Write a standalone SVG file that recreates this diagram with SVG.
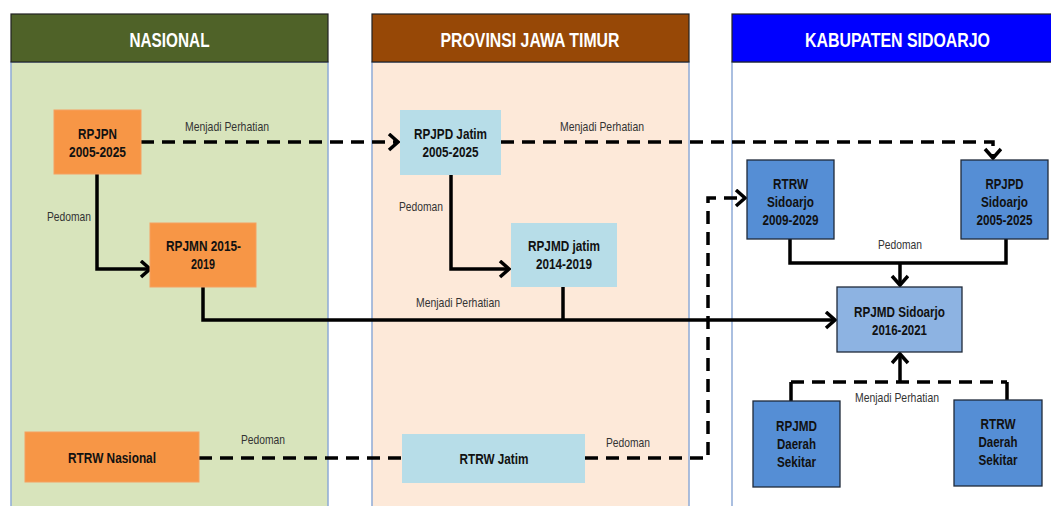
<svg xmlns="http://www.w3.org/2000/svg" width="1051" height="506" viewBox="0 0 1051 506">
<style>
.hdr{stroke:#222;stroke-width:1.2}
.col{stroke:#8eaad6;stroke-width:1.5}
.ht{font-family:"Liberation Sans",Arial,sans-serif;font-weight:bold;font-size:20.5px;fill:#fff;text-anchor:middle}
.nt{font-family:"Liberation Sans",Arial,sans-serif;font-weight:bold;font-size:15.2px;fill:#111;text-anchor:middle}
.lb{font-family:"Liberation Sans",Arial,sans-serif;font-size:13px;fill:#333}
.or{fill:#f79646;stroke:#f5a060;stroke-width:1}
.lb1{fill:#b7dde8}
.db{fill:#558ed5;stroke:#1f2a3a;stroke-width:1.3}
.mb{fill:#8db3e2;stroke:#1f2a3a;stroke-width:1.3}
.c{fill:none;stroke:#000;stroke-width:3.5}
.d{stroke-dasharray:13 8}
</style>
<defs>
<marker id="ar" markerUnits="userSpaceOnUse" markerWidth="16" markerHeight="20" refX="11" refY="9" orient="auto">
<path d="M2,1 L11,9 L2,17" fill="none" stroke="#000" stroke-width="3.5"/>
</marker>
</defs>
<g id="col-nasional">
<rect x="11" y="62" width="317" height="450" fill="#d8e4bc" class="col"/>
<rect x="11" y="14" width="317" height="48" fill="#4f6228" class="hdr"/>
<text x="169.5" y="47" class="ht" textLength="80" lengthAdjust="spacingAndGlyphs">NASIONAL</text>
</g>
<g id="col-provinsi">
<rect x="372" y="62" width="317" height="450" fill="#fde9d9" class="col"/>
<rect x="372" y="14" width="317" height="48" fill="#974806" class="hdr"/>
<text x="530" y="47" class="ht" textLength="179" lengthAdjust="spacingAndGlyphs">PROVINSI JAWA TIMUR</text>
</g>
<g id="col-kabupaten">
<rect x="732" y="62" width="330" height="450" fill="#fff" class="col"/>
<rect x="732" y="14" width="330" height="48" fill="#0000ff" class="hdr"/>
<text x="897.5" y="47" class="ht" textLength="185" lengthAdjust="spacingAndGlyphs">KABUPATEN SIDOARJO</text>
</g>
<g id="connectors">
<path class="c d" d="M141,142 H398" marker-end="url(#ar)"/>
<path class="c d" d="M501,142 H993 V158" marker-end="url(#ar)"/>
<path class="c" d="M97,174 V269 H150" marker-end="url(#ar)"/>
<path class="c" d="M451,175 V269 H509" marker-end="url(#ar)"/>
<path class="c" d="M203,287 V320 H835" marker-end="url(#ar)"/>
<path class="c" d="M563,287 V320"/>
<path class="c d" d="M199,458 H402"/>
<path class="c d" d="M585,458 H708 V198 H745" marker-end="url(#ar)"/>
<path class="c" d="M790,239 V263 H1006 V239"/>
<path class="c" d="M900,263 V285" marker-end="url(#ar)"/>
<path class="c" d="M791,401 V382"/>
<path class="c d" d="M791,382 H1007"/>
<path class="c" d="M1007,382 V400"/>
<path class="c" d="M900,382 V354" marker-end="url(#ar)"/>
<text x="185" y="130.5" class="lb" textLength="84" lengthAdjust="spacingAndGlyphs">Menjadi Perhatian</text>
<text x="560" y="130.5" class="lb" textLength="84" lengthAdjust="spacingAndGlyphs">Menjadi Perhatian</text>
<text x="47" y="220.5" class="lb" textLength="44" lengthAdjust="spacingAndGlyphs">Pedoman</text>
<text x="399" y="210.5" class="lb" textLength="44" lengthAdjust="spacingAndGlyphs">Pedoman</text>
<text x="416" y="306.5" class="lb" textLength="84" lengthAdjust="spacingAndGlyphs">Menjadi Perhatian</text>
<text x="878" y="248.5" class="lb" textLength="44" lengthAdjust="spacingAndGlyphs">Pedoman</text>
<text x="241" y="443.5" class="lb" textLength="44" lengthAdjust="spacingAndGlyphs">Pedoman</text>
<text x="606" y="446.5" class="lb" textLength="44" lengthAdjust="spacingAndGlyphs">Pedoman</text>
<text x="855" y="401.5" class="lb" textLength="84" lengthAdjust="spacingAndGlyphs">Menjadi Perhatian</text>
</g>
<g id="rpjpn"><rect x="54" y="110" width="87" height="64" class="or"/><text x="97.5" y="138.5" class="nt" textLength="39" lengthAdjust="spacingAndGlyphs">RPJPN</text><text x="97.5" y="156.5" class="nt" textLength="57" lengthAdjust="spacingAndGlyphs">2005-2025</text></g>
<g id="rpjmn"><rect x="150" y="223" width="106" height="64" class="or"/><text x="203.5" y="250.5" class="nt" textLength="75" lengthAdjust="spacingAndGlyphs">RPJMN 2015-</text><text x="203" y="268.5" class="nt" textLength="24" lengthAdjust="spacingAndGlyphs">2019</text></g>
<g id="rtrw-nasional"><rect x="25" y="432" width="174" height="50" class="or"/><text x="112" y="462.5" class="nt" textLength="88" lengthAdjust="spacingAndGlyphs">RTRW Nasional</text></g>
<g id="rpjpd-jatim"><rect x="400" y="110" width="101" height="65" class="lb1"/><text x="450.5" y="138.5" class="nt" textLength="73" lengthAdjust="spacingAndGlyphs">RPJPD Jatim</text><text x="450.5" y="156.5" class="nt" textLength="56" lengthAdjust="spacingAndGlyphs">2005-2025</text></g>
<g id="rpjmd-jatim"><rect x="511" y="223" width="106" height="64" class="lb1"/><text x="564" y="250.5" class="nt" textLength="72" lengthAdjust="spacingAndGlyphs">RPJMD jatim</text><text x="564" y="268.5" class="nt" textLength="56" lengthAdjust="spacingAndGlyphs">2014-2019</text></g>
<g id="rtrw-jatim"><rect x="402" y="434" width="183" height="49" class="lb1"/><text x="494" y="463.5" class="nt" textLength="69" lengthAdjust="spacingAndGlyphs">RTRW Jatim</text></g>
<g id="rtrw-sidoarjo"><rect x="747" y="160" width="87" height="79" class="db"/><text x="790.5" y="188.5" class="nt" textLength="35" lengthAdjust="spacingAndGlyphs">RTRW</text><text x="790.5" y="206.5" class="nt" textLength="47" lengthAdjust="spacingAndGlyphs">Sidoarjo</text><text x="790.5" y="224.5" class="nt" textLength="56" lengthAdjust="spacingAndGlyphs">2009-2029</text></g>
<g id="rpjpd-sidoarjo"><rect x="961" y="160" width="87" height="79" class="db"/><text x="1004.5" y="188.5" class="nt" textLength="38" lengthAdjust="spacingAndGlyphs">RPJPD</text><text x="1004.5" y="206.5" class="nt" textLength="47" lengthAdjust="spacingAndGlyphs">Sidoarjo</text><text x="1004.5" y="224.5" class="nt" textLength="56" lengthAdjust="spacingAndGlyphs">2005-2025</text></g>
<g id="rpjmd-sidoarjo"><rect x="837" y="287" width="125" height="65" class="mb"/><text x="899.5" y="316.5" class="nt" textLength="91" lengthAdjust="spacingAndGlyphs">RPJMD Sidoarjo</text><text x="899.5" y="334.5" class="nt" textLength="55" lengthAdjust="spacingAndGlyphs">2016-2021</text></g>
<g id="rpjmd-daerah"><rect x="753" y="401" width="87" height="86" class="db"/><text x="796.5" y="430.5" class="nt" textLength="41" lengthAdjust="spacingAndGlyphs">RPJMD</text><text x="796.5" y="448.5" class="nt" textLength="39" lengthAdjust="spacingAndGlyphs">Daerah</text><text x="796.5" y="466.5" class="nt" textLength="39" lengthAdjust="spacingAndGlyphs">Sekitar</text></g>
<g id="rtrw-daerah"><rect x="954" y="400" width="88" height="86" class="db"/><text x="998" y="428.5" class="nt" textLength="35" lengthAdjust="spacingAndGlyphs">RTRW</text><text x="998" y="446.5" class="nt" textLength="39" lengthAdjust="spacingAndGlyphs">Daerah</text><text x="998" y="464.5" class="nt" textLength="39" lengthAdjust="spacingAndGlyphs">Sekitar</text></g>
</svg>
